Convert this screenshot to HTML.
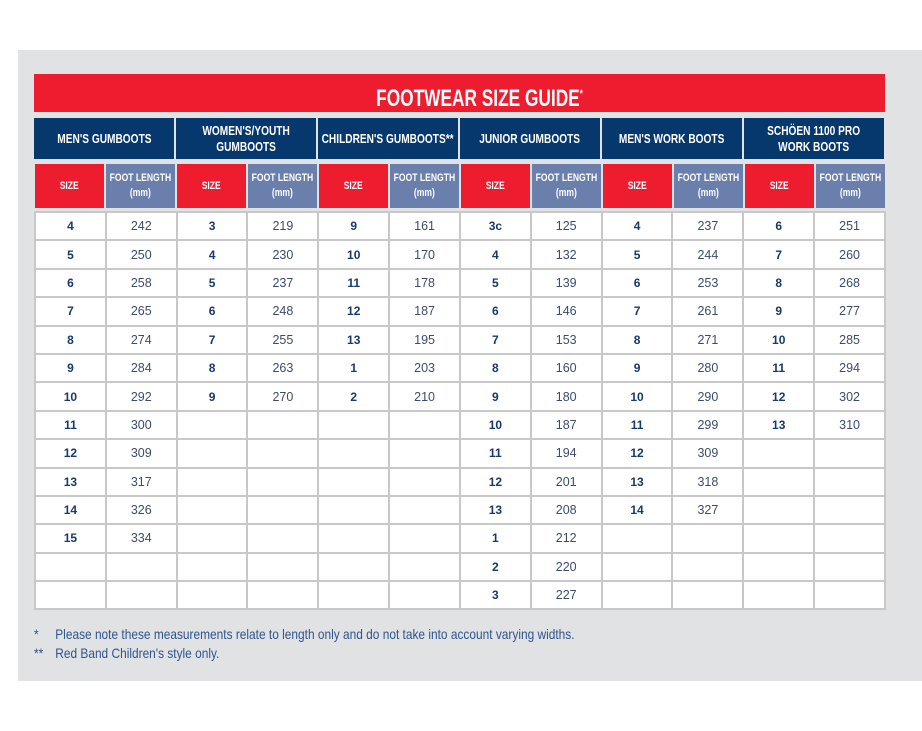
<!DOCTYPE html>
<html><head><meta charset="utf-8"><style>
body{margin:0;width:922px;height:731px;background:#fff;position:relative;overflow:hidden;font-family:"Liberation Sans",sans-serif}
#panel{position:absolute;left:18px;top:50px;width:904px;height:631px;background:#e1e2e4}
#title{position:absolute;left:34px;top:74px;width:851px;height:38px;background:#ed1c2e;color:#fff;font-weight:bold;font-size:24px;text-align:center;line-height:41px;box-sizing:border-box;padding-left:40px}
#title span{display:inline-block;transform:scaleX(0.72)}
#title sup{font-size:11px}
.hd{position:absolute;top:118px;height:41px;width:140px;background:#06386e;color:#fff;font-weight:bold;font-size:13px;display:flex;align-items:center;justify-content:center;text-align:center;line-height:16px}
.hd span,.sh span{display:inline-block;transform:scaleX(0.78);white-space:nowrap}
.sh{position:absolute;top:164px;height:44px;width:69px;color:#fff;font-weight:bold;font-size:11px;display:flex;align-items:center;justify-content:center;text-align:center;line-height:15px}
.r{background:#ed1c2e}.b{background:#6b7fad}
table{position:absolute;left:34px;top:211px;width:852px;border-collapse:collapse;table-layout:fixed;background:#fff}
td{border:2px solid #c8c8c8;height:26.4px;padding:0;text-align:center;font-size:12.5px;color:#3c4c6e}
td:nth-child(odd){font-weight:bold;color:#163a6c;font-size:12px}
#notes{position:absolute;left:34px;top:625px;color:#2d558f;font-size:14px;line-height:19px;transform:scaleX(0.85);transform-origin:left top;white-space:nowrap}
#notes span{display:inline-block;width:25px}
</style></head><body>
<div id="panel"></div>
<div id="title"><span>FOOTWEAR SIZE GUIDE<sup>*</sup></span></div>
<div class="hd" style="left:34px"><span>MEN'S GUMBOOTS</span></div>
<div class="hd" style="left:176px"><span>WOMEN'S/YOUTH<br>GUMBOOTS</span></div>
<div class="hd" style="left:318px"><span>CHILDREN'S GUMBOOTS**</span></div>
<div class="hd" style="left:460px"><span>JUNIOR GUMBOOTS</span></div>
<div class="hd" style="left:602px"><span>MEN'S WORK BOOTS</span></div>
<div class="hd" style="left:744px"><span>SCHÖEN 1100 PRO<br>WORK BOOTS</span></div>
<div class="sh r" style="left:35px"><span>SIZE</span></div><div class="sh b" style="left:106px"><span>FOOT LENGTH<br>(mm)</span></div>
<div class="sh r" style="left:177px"><span>SIZE</span></div><div class="sh b" style="left:248px"><span>FOOT LENGTH<br>(mm)</span></div>
<div class="sh r" style="left:319px"><span>SIZE</span></div><div class="sh b" style="left:390px"><span>FOOT LENGTH<br>(mm)</span></div>
<div class="sh r" style="left:461px"><span>SIZE</span></div><div class="sh b" style="left:532px"><span>FOOT LENGTH<br>(mm)</span></div>
<div class="sh r" style="left:603px"><span>SIZE</span></div><div class="sh b" style="left:674px"><span>FOOT LENGTH<br>(mm)</span></div>
<div class="sh r" style="left:745px"><span>SIZE</span></div><div class="sh b" style="left:816px"><span>FOOT LENGTH<br>(mm)</span></div>
<table>
<tr><td>4</td><td>242</td><td>3</td><td>219</td><td>9</td><td>161</td><td>3c</td><td>125</td><td>4</td><td>237</td><td>6</td><td>251</td></tr>
<tr><td>5</td><td>250</td><td>4</td><td>230</td><td>10</td><td>170</td><td>4</td><td>132</td><td>5</td><td>244</td><td>7</td><td>260</td></tr>
<tr><td>6</td><td>258</td><td>5</td><td>237</td><td>11</td><td>178</td><td>5</td><td>139</td><td>6</td><td>253</td><td>8</td><td>268</td></tr>
<tr><td>7</td><td>265</td><td>6</td><td>248</td><td>12</td><td>187</td><td>6</td><td>146</td><td>7</td><td>261</td><td>9</td><td>277</td></tr>
<tr><td>8</td><td>274</td><td>7</td><td>255</td><td>13</td><td>195</td><td>7</td><td>153</td><td>8</td><td>271</td><td>10</td><td>285</td></tr>
<tr><td>9</td><td>284</td><td>8</td><td>263</td><td>1</td><td>203</td><td>8</td><td>160</td><td>9</td><td>280</td><td>11</td><td>294</td></tr>
<tr><td>10</td><td>292</td><td>9</td><td>270</td><td>2</td><td>210</td><td>9</td><td>180</td><td>10</td><td>290</td><td>12</td><td>302</td></tr>
<tr><td>11</td><td>300</td><td></td><td></td><td></td><td></td><td>10</td><td>187</td><td>11</td><td>299</td><td>13</td><td>310</td></tr>
<tr><td>12</td><td>309</td><td></td><td></td><td></td><td></td><td>11</td><td>194</td><td>12</td><td>309</td><td></td><td></td></tr>
<tr><td>13</td><td>317</td><td></td><td></td><td></td><td></td><td>12</td><td>201</td><td>13</td><td>318</td><td></td><td></td></tr>
<tr><td>14</td><td>326</td><td></td><td></td><td></td><td></td><td>13</td><td>208</td><td>14</td><td>327</td><td></td><td></td></tr>
<tr><td>15</td><td>334</td><td></td><td></td><td></td><td></td><td>1</td><td>212</td><td></td><td></td><td></td><td></td></tr>
<tr><td></td><td></td><td></td><td></td><td></td><td></td><td>2</td><td>220</td><td></td><td></td><td></td><td></td></tr>
<tr><td></td><td></td><td></td><td></td><td></td><td></td><td>3</td><td>227</td><td></td><td></td><td></td><td></td></tr>
</table>
<div id="notes"><span>*</span>Please note these measurements relate to length only and do not take into account varying widths.<br><span>**</span>Red Band Children's style only.</div>
</body></html>
